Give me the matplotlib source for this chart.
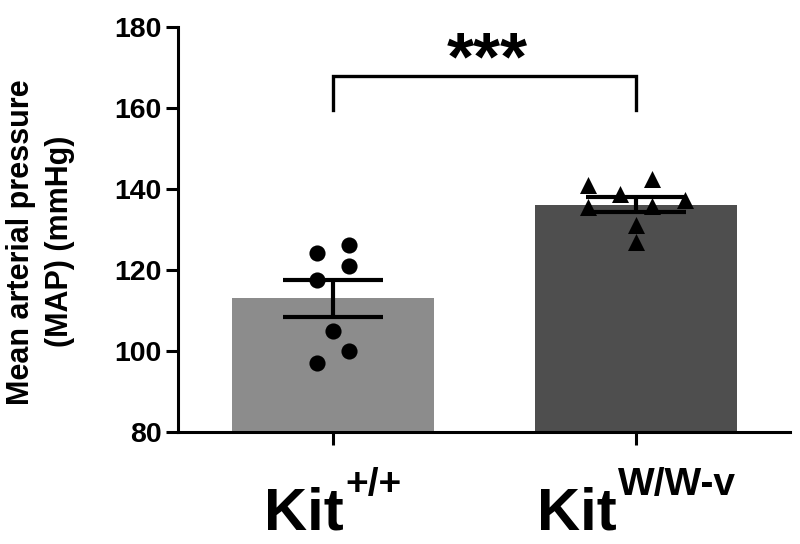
import numpy as np
import matplotlib
matplotlib.use('Agg')
import matplotlib.pyplot as plt
from matplotlib.transforms import blended_transform_factory

plt.rcParams['font.family'] = ['Liberation Sans', 'DejaVu Sans']
plt.rcParams['font.weight'] = 'bold'

# data
groups = ['Kit', 'Kit']
group_sups = ['+/+', 'W/W-v']
wt_map = [124.1, 126.2, 121.1, 117.5, 104.9, 100.0, 97.1]
wt_offsets = [-0.053, 0.053, 0.053, -0.053, 0.0, 0.053, -0.053]
mut_map = [141.0, 142.6, 138.9, 137.3, 135.5, 135.8, 131.1, 127.0]
mut_offsets = [-0.16, 0.053, -0.053, 0.16, -0.16, 0.053, 0.0, 0.0]
bar_colors = ['#8c8c8c', '#4e4e4e']
markers = ['o', '^']
y_ticks = [80, 100, 120, 140, 160, 180]
sig_label = '***'

values = [np.array(wt_map), np.array(mut_map)]
offsets = [wt_offsets, mut_offsets]
means = [v.mean() for v in values]
sems = [v.std(ddof=1) / np.sqrt(len(v)) for v in values]
x = np.arange(len(values))

fig = plt.figure(figsize=(8, 5.44), dpi=100)
ax = fig.add_axes([0.2225, 0.206, 0.765, 0.744])

ax.bar(x, means, width=0.667, color=bar_colors, zorder=1)
ax.errorbar(x, means, yerr=sems, fmt='none', ecolor='black', elinewidth=3,
            capsize=36, capthick=3, zorder=2)
for xi, vals, offs, mk in zip(x, values, offsets, markers):
    ax.scatter(xi + np.array(offs), vals, marker=mk, s=135 if mk == 'o' else 150,
               color='black', zorder=3, clip_on=False, linewidths=0)

# significance bracket
ax.plot([x[0], x[0], x[1], x[1]], [159.5, 168, 168, 159.5], color='black',
        lw=2.4, solid_joinstyle='miter', clip_on=False)
ax.text(x.mean() + 0.01, 167.2, sig_label, ha='center', va='baseline',
        fontsize=50, fontweight='bold')

ax.set_xlim(-0.512, 1.508)
ax.set_ylim(80, 180)
ax.set_yticks(y_ticks)
ax.set_xticks(x)
ax.set_xticklabels(['', ''])
for side in ['top', 'right']:
    ax.spines[side].set_visible(False)
for side in ['left', 'bottom']:
    ax.spines[side].set_linewidth(2.2)
ax.tick_params(axis='both', width=2.2, length=9, labelsize=20.5, pad=3)

ax.set_ylabel('Mean arterial pressure\n(MAP) (mmHg)', fontsize=22,
              fontweight='bold', linespacing=1.42)
ax.yaxis.set_label_coords(-0.168, 0.47)

# x labels with superscripts, centred under each tick
trans = blended_transform_factory(ax.transData, ax.transAxes)
fig.canvas.draw()
r = fig.canvas.get_renderer()
for xi, base, sup in zip(x, groups, group_sups):
    tb = ax.annotate(base, xy=(xi, -0.242), xycoords=trans, xytext=(0, 0),
                     textcoords='offset points', ha='left', va='baseline',
                     fontsize=43, fontweight='bold', annotation_clip=False)
    ts = ax.annotate(sup, xy=(xi, -0.242), xycoords=trans, xytext=(0, 25),
                     textcoords='offset points', ha='left', va='baseline',
                     fontsize=28, fontweight='bold', annotation_clip=False)
    wb = tb.get_window_extent(r).width * 72 / fig.dpi
    ws = ts.get_window_extent(r).width * 72 / fig.dpi
    start = -(wb + ws + 1) / 2
    tb.xyann = (start, 0)
    ts.xyann = (start + wb + 1, 25)

fig.savefig('out.png', dpi=100)
